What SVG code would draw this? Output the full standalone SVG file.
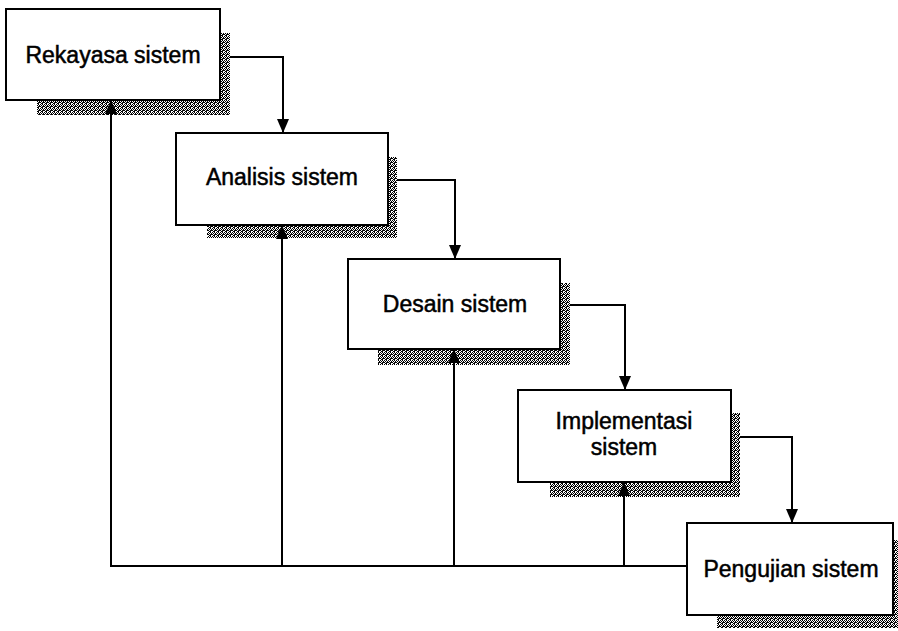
<svg xmlns="http://www.w3.org/2000/svg" width="898" height="631" viewBox="0 0 898 631">
  <defs>
    <!-- dithered grey fill for the drop shadows -->
    <pattern id="dither" width="4" height="4" patternUnits="userSpaceOnUse">
      <rect width="4" height="4" fill="#fff"/>
      <rect x="0" y="0" width="1" height="1" fill="#000"/>
      <rect x="2" y="0" width="1" height="1" fill="#000"/>
      <rect x="1" y="1" width="1" height="1" fill="#000"/>
      <rect x="3" y="1" width="1" height="1" fill="#000"/>
      <rect x="0" y="2" width="1" height="1" fill="#000"/>
      <rect x="2" y="2" width="1" height="1" fill="#222"/>
      <rect x="3" y="2" width="1" height="1" fill="#000"/>
      <rect x="1" y="3" width="1" height="1" fill="#000"/>
      <rect x="2" y="3" width="1" height="1" fill="#000"/>
    </pattern>
    <marker id="arrow" viewBox="0 0 14 12" refX="14" refY="6" markerWidth="14" markerHeight="12" markerUnits="userSpaceOnUse" orient="auto">
      <path d="M0,0 L14,6 L0,12 Z" fill="#000"/>
    </marker>
  </defs>
  <style>
    .shadow { fill: url(#dither); stroke: none; }
    .box { fill: #fff; stroke: #000; stroke-width: 2; }
    .label { font-family: "Liberation Sans", Arial, sans-serif; font-size: 23px; fill: #000; stroke: #000; stroke-width: 0.5; text-anchor: middle; }
    .link { fill: none; stroke: #000; stroke-width: 2; }
  </style>

  <rect width="898" height="631" fill="#fff"/>

  <g id="rekayasa">
    <rect class="shadow" x="37" y="33" width="193" height="82"/>
    <rect class="box" x="6" y="9" width="214" height="91"/>
    <text class="label" x="113" y="63">Rekayasa sistem</text>
  </g>

  <g id="analisis">
    <rect class="shadow" x="207" y="157" width="190" height="81"/>
    <rect class="box" x="176" y="133" width="212" height="92"/>
    <text class="label" x="282" y="185">Analisis sistem</text>
  </g>

  <g id="desain">
    <rect class="shadow" x="378" y="283" width="192" height="82"/>
    <rect class="box" x="348" y="259" width="212" height="90"/>
    <text class="label" x="455" y="312">Desain sistem</text>
  </g>

  <g id="implementasi">
    <rect class="shadow" x="550" y="413" width="190" height="84"/>
    <rect class="box" x="518" y="390" width="213" height="92"/>
    <text class="label" x="624" y="429">Implementasi</text>
    <text class="label" x="624" y="455">sistem</text>
  </g>

  <g id="pengujian">
    <rect class="shadow" x="717" y="540" width="181" height="88"/>
    <rect class="box" x="687" y="523" width="206" height="92"/>
    <text class="label" x="791" y="577">Pengujian sistem</text>
  </g>

  <g id="connectors">
    <!-- forward steps -->
    <path class="link" d="M230,57 H283 V133" marker-end="url(#arrow)"/>
    <path class="link" d="M397,180 H455 V259" marker-end="url(#arrow)"/>
    <path class="link" d="M570,305 H625 V390" marker-end="url(#arrow)"/>
    <path class="link" d="M740,437 H792 V523" marker-end="url(#arrow)"/>
    <!-- feedback to earlier stages -->
    <path class="link" d="M687,566 H111 V100" marker-end="url(#arrow)"/>
    <path class="link" d="M282,566 V225" marker-end="url(#arrow)"/>
    <path class="link" d="M454,566 V349" marker-end="url(#arrow)"/>
    <path class="link" d="M624,566 V482" marker-end="url(#arrow)"/>
  </g>
</svg>
